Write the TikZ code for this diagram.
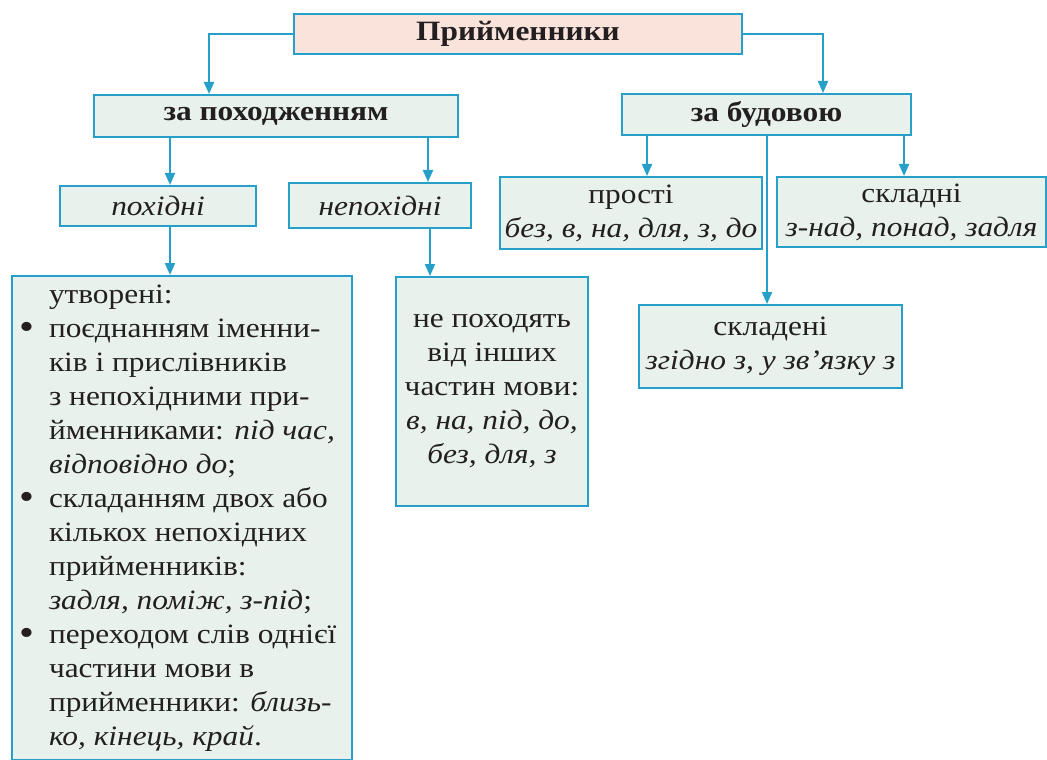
\documentclass[tikz,border=0pt]{standalone}
\usepackage{fontspec}
\setmainfont{Liberation Serif}[FakeStretch=1.12]
\usetikzlibrary{arrows.meta}
\definecolor{lineblue}{RGB}{38,160,200}
\definecolor{boxfill}{RGB}{232,241,236}
\definecolor{headfill}{RGB}{250,227,219}
\definecolor{inkgray}{RGB}{35,31,32}
\newcommand{\bul}{\makebox[15pt][l]{\raisebox{-1.2pt}{\fontsize{19}{17}\selectfont\textbullet}}}
\newcommand{\nob}{\hspace*{15pt}}
\begin{document}
\begin{tikzpicture}[x=0.5pt,y=-0.5pt,
  box/.style n args={2}{draw=lineblue,line width=1pt,fill=boxfill,minimum width=#1,minimum height=#2,inner sep=2pt,align=center,text=inkgray,font=\fontsize{14}{17}\selectfont},
  headbox/.style n args={2}{box={#1}{#2},fill=headfill},
  arr/.style={draw=lineblue,line width=1pt,-{Triangle[width=5pt,length=6pt]}}]
\path[use as bounding box,fill=white] (0,0) rectangle (1047,759);
% levels
\node[headbox={224pt}{20pt}] (prep) at (518,34) {\textbf{Прийменники}};
\node[box={182pt}{21pt}] (orig) at (276,116) {\textbf{за походженням}};
\node[box={144.5pt}{20.5pt}] (struct) at (766.5,114.5) {\textbf{за будовою}};
\node[box={98pt}{20pt}] (deriv) at (158,206) {\textit{похідні}};
\node[box={91pt}{22.5pt}] (nonderiv) at (380,205.5) {\textit{непохідні}};
\node[box={131pt}{36pt}] (simple) at (631,213) {прості\\\textit{без, в, на, для, з, до}};
\node[box={134.5pt}{35pt}] (complex) at (911.5,212) {складні\\\textit{з-над, понад, задля}};
\node[box={131.5pt}{41.5pt}] (compound) at (770.5,346.5) {складені\\\textit{згідно з, у зв’язку з}};
\node[box={170pt}{242pt},align=left] (derivlist) at (182,518) {%
  \nob\makebox[148pt][l]{утворені:}\\
  \bul поєднанням іменни-\\
  \nob ків і прислівників\\
  \nob з непохідними при-\\
  \nob йменниками: \textit{під час,}\\
  \nob\textit{відповідно до};\\
  \bul складанням двох або\\
  \nob кількох непохідних\\
  \nob прийменників:\\
  \nob\textit{задля, поміж, з-під};\\
  \bul переходом слів однієї\\
  \nob частини мови в\\
  \nob прийменники: \textit{близь-}\\
  \nob\textit{ко, кінець, край}.};
\node[box={96pt}{114.5pt}] (nonderivlist) at (492,391.5) {не походять\\від інших\\частин мови:\\\textit{в, на, під, до,}\\\textit{без, для, з}};
% connectors
\draw[arr] (prep.west) -| ([xshift=-33.5pt]orig.north);
\draw[arr] (prep.east) -| ([xshift=28.25pt]struct.north);
\foreach \a/\b/\s in {orig/deriv/6pt,orig/nonderiv/24pt,deriv/derivlist/-6pt,nonderiv/nonderivlist/-31pt,struct/simple/8pt,struct/complex/-3.75pt,struct/compound/-1.75pt}
  \draw[arr] ([xshift=\s]\b.north |- \a.south) -- ([xshift=\s]\b.north);
\end{tikzpicture}
\end{document}
